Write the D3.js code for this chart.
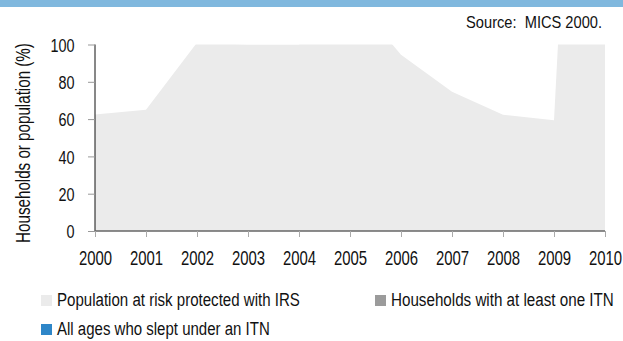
<!DOCTYPE html>
<html><head><meta charset="utf-8">
<script src="https://cdn.jsdelivr.net/npm/d3@7"></script>
<style>
html,body{margin:0;padding:0;background:#fff;}
svg text{font-family:"Liberation Sans",Arial,sans-serif;fill:#111;}
</style></head>
<body><svg id="chart" width="623" height="341"></svg>
<script>
const years = [2000,2001,2002,2003,2004,2005,2006,2007,2008,2009,2010];
const irsValues = [62.5,65,101,100,100,127,94.5,74.7,62.3,59.4,580];
const yTicks = [0,20,40,60,80,100];
const legendLabels = ["Population at risk protected with IRS","Households with at least one ITN","All ages who slept under an ITN"];
const legendColors = ["#ebebeb","#9b9b9b","#2e86c8"];
const sourceText = "Source:\u00a0\u00a0MICS 2000.";
const yTitle = "Households or population (%)";

const svg = d3.select("#chart");
const m = {left:95, right:605, top:44.5, bottom:231};
const x = d3.scaleLinear().domain([2000,2010]).range([m.left,m.right]);
const y = d3.scaleLinear().domain([0,100]).range([m.bottom,m.top]);

// place text horizontally condensed so that it spans a given width
function fitText(parent, str, tx, ty, size, width, anchor, rot){
  const g = parent.append("g").attr("transform",`translate(${tx},${ty})${rot?` rotate(${rot})`:""}`);
  const t = g.append("text").attr("font-size",size).attr("text-anchor",anchor||"start").text(str);
  const w = t.node().getComputedTextLength();
  t.attr("transform",`scale(${width/w},1)`);
  return t;
}

// banner
svg.append("rect").attr("x",0).attr("y",0).attr("width",623).attr("height",7).attr("fill","#80b8de");

fitText(svg, sourceText, 602, 28, 16, 136, "end");

svg.append("clipPath").attr("id","plotclip").append("rect")
  .attr("x",m.left).attr("y",m.top).attr("width",m.right-m.left).attr("height",m.bottom-m.top);

const data = years.map((d,i)=>({year:d,v:irsValues[i]}));
const area = d3.area().x(d=>x(d.year)).y0(y(0)).y1(d=>y(d.v));
svg.append("path").datum(data).attr("d",area).attr("fill","#ebebeb").attr("clip-path","url(#plotclip)");

// y axis
const ky = 0.76;
const yAxis = d3.axisLeft(y).tickValues(yTicks).tickSize(7).tickPadding(0);
const gy = svg.append("g").attr("transform",`translate(${m.left},0)`).call(yAxis);
gy.select(".domain").attr("stroke","#111").attr("stroke-width",1).attr("d",`M0,${m.top}V${m.bottom}`);
gy.selectAll(".tick line").attr("stroke","#999");
gy.selectAll(".tick text").attr("font-size",19).attr("fill","#111")
  .attr("x",-20.5/ky).attr("dy","0.36em").attr("transform",`scale(${ky},1)`);

// x axis
const kx = 0.71;
const xAxis = d3.axisBottom(x).tickValues(years).tickFormat(d3.format("d")).tickSize(6).tickPadding(0);
const gx = svg.append("g").attr("transform",`translate(0,${m.bottom})`).call(xAxis);
gx.select(".domain").attr("stroke","#666").attr("stroke-width",1.6).attr("d",`M${m.left},0H${m.right}`);
gx.selectAll(".tick line").attr("stroke","#aaa");
gx.selectAll(".tick text").attr("font-size",21).attr("fill","#111")
  .attr("y",34).attr("dy",null).attr("transform",`scale(${kx},1)`);

fitText(svg, yTitle, 29.5, 143, 20.5, 200, "middle", -90);

// legend
const legPos = [[41,295],[375,295],[41,324]];
const legW = [243,223,213];
legendLabels.forEach((lab,i)=>{
  const [lx,ly] = legPos[i];
  svg.append("rect").attr("x",lx).attr("y",ly).attr("width",11).attr("height",11).attr("fill",legendColors[i]);
  fitText(svg, lab, lx+16, ly+10.8, 19, legW[i], "start");
});
</script></body></html>
